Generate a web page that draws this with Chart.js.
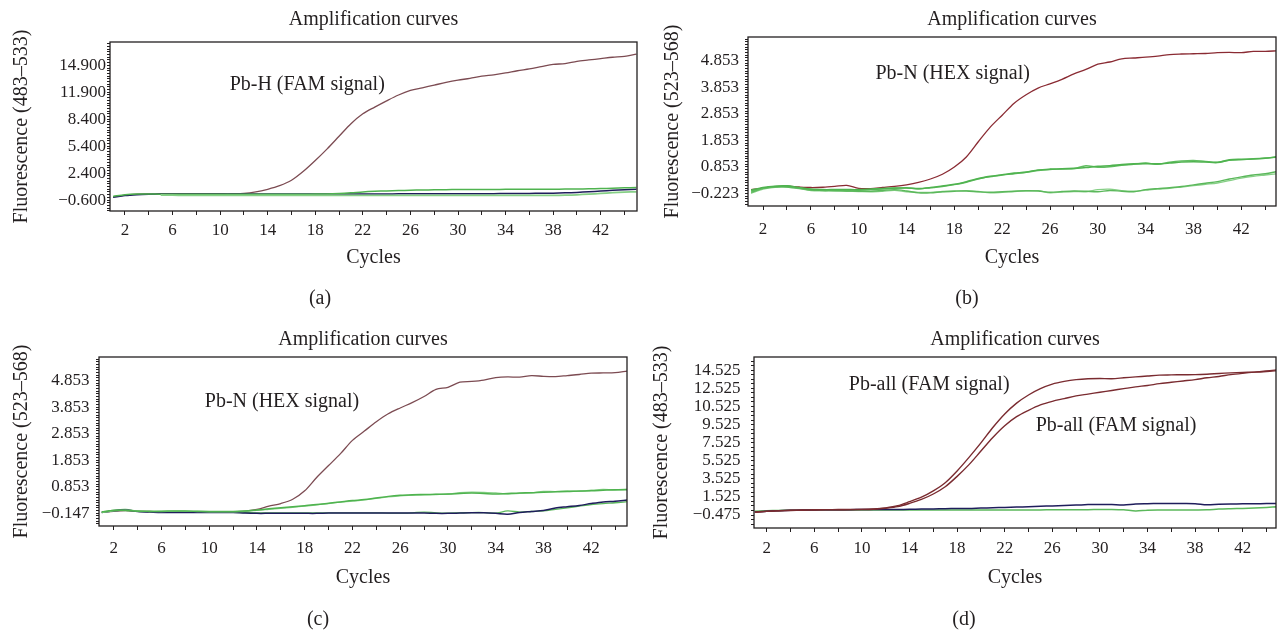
<!DOCTYPE html>
<html>
<head>
<meta charset="utf-8">
<title>Amplification curves</title>
<script src="https://cdn.jsdelivr.net/npm/chart.js@4.4.1/dist/chart.umd.min.js"></script>
<style>
  body { margin: 0; background: #fff; width: 1277px; height: 631px; overflow: hidden; position: relative; }
  canvas { position: absolute; }
</style>
</head>
<body>
<canvas id="chartA" width="640" height="320" style="left:0;top:0"></canvas>
<canvas id="chartB" width="637" height="320" style="left:640px;top:0"></canvas>
<canvas id="chartC" width="640" height="311" style="left:0;top:320px"></canvas>
<canvas id="chartD" width="637" height="311" style="left:640px;top:320px"></canvas>
<script>
const cycles = [1, 2, 3, 4, 5, 6, 7, 8, 9, 10, 11, 12, 13, 14, 15, 16, 17, 18, 19, 20, 21, 22, 23,
    24, 25, 26, 27, 28, 29, 30, 31, 32, 33, 34, 35, 36, 37, 38, 39, 40, 41, 42, 43, 44, 45];
const xTickValues = [2, 4, 6, 8, 10, 12, 14, 16, 18, 20, 22, 24, 26, 28, 30, 32, 34, 36, 38, 40, 42, 44];
const xTickLabels = ['2', '6', '10', '14', '18', '22', '26', '30', '34', '38', '42'];

// (a) Pb-H, FAM channel
const aTickLabels = ['\u22120.600', '2.400', '5.400', '8.400', '11.900', '14.900'];
const aRed = [-0.25, -0.05, 0.05, 0.08, 0.1, 0.1, 0.1, 0.1, 0.1, 0.1, 0.1, 0.13, 0.3, 0.6, 1.0, 1.6, 2.6, 3.8, 5.1, 6.5,
    7.9, 9.0, 9.75, 10.45, 11.1, 11.6, 11.9, 12.2, 12.5, 12.75, 12.95, 13.2, 13.35, 13.55, 13.8, 14.0, 14.25, 14.5,
    14.6, 14.85, 15.0, 15.15, 15.3, 15.4, 15.65];
const aBlue = [-0.3, -0.1, 0.0, 0.05, 0.07, 0.07, 0.07, 0.07, 0.07, 0.07, 0.07, 0.07, 0.07, 0.07, 0.07, 0.07, 0.07,
    0.07, 0.07, 0.07, 0.07, 0.08, 0.08, 0.08, 0.09, 0.09, 0.09, 0.1, 0.1, 0.1, 0.1, 0.1, 0.11, 0.12, 0.13, 0.14, 0.15,
    0.17, 0.2, 0.25, 0.32, 0.4, 0.48, 0.55, 0.6];
const aGreen1 = [-0.2, 0.0, 0.08, 0.07, 0.05, 0.05, 0.05, 0.05, 0.05, 0.05, 0.05, 0.05, 0.05, 0.05, 0.05, 0.05, 0.05,
    0.06, 0.07, 0.12, 0.2, 0.3, 0.37, 0.42, 0.46, 0.49, 0.52, 0.54, 0.56, 0.57, 0.57, 0.58, 0.58, 0.59, 0.59, 0.6, 0.6,
    0.61, 0.62, 0.63, 0.65, 0.68, 0.72, 0.76, 0.8];
const aGreen2 = [null, null, null, null, -0.04, -0.06, -0.08, -0.08, -0.08, -0.08, -0.08, -0.08, -0.08, -0.08, -0.08,
    -0.08, -0.08, -0.08, -0.08, -0.08, -0.08, -0.08, -0.07, -0.07, -0.07, -0.07, -0.07, -0.07, -0.07, -0.07, -0.07,
    -0.07, -0.07, -0.07, -0.08, -0.08, -0.08, -0.08, -0.06, -0.02, 0.05, 0.14, 0.22, 0.28, 0.32];

// (b) Pb-N, HEX channel
const bTickLabels = ['\u22120.223', '0.853', '1.853', '2.853', '3.853', '4.853'];
const bRed = [0.0, 0.06, 0.11, 0.13, 0.1, 0.08, 0.09, 0.12, 0.16, 0.05, 0.04, 0.08, 0.12, 0.18, 0.27, 0.4, 0.58, 0.85,
    1.23, 1.8, 2.35, 2.8, 3.25, 3.57, 3.82, 3.98, 4.15, 4.35, 4.52, 4.72, 4.8, 4.92, 4.95, 4.98, 5.02, 5.08, 5.1, 5.11,
    5.12, 5.15, 5.16, 5.15, 5.2, 5.2, 5.22];
const bGreen1 = [-0.02, 0.08, 0.13, 0.14, 0.08, 0.02, 0.0, 0.0, 0.0, 0.0, 0.02, 0.04, 0.06, 0.06, 0.04, 0.08, 0.14, 0.2,
    0.3, 0.42, 0.5, 0.56, 0.62, 0.66, 0.74, 0.77, 0.78, 0.8, 0.83, 0.88, 0.9, 0.94, 0.97, 0.98, 0.97, 1.0, 1.04, 1.05,
    1.04, 1.02, 1.12, 1.14, 1.15, 1.18, 1.24];
const bGreen2 = [-0.06, 0.05, 0.12, 0.13, 0.06, 0.0, -0.02, -0.02, -0.01, -0.02, 0.0, 0.03, 0.05, 0.07, 0.03, 0.07, 0.12,
    0.19, 0.28, 0.4, 0.49, 0.55, 0.6, 0.65, 0.72, 0.76, 0.78, 0.79, 0.9, 0.84, 0.86, 0.92, 0.95, 1.0, 0.95, 1.03, 1.08,
    1.1, 1.06, 1.03, 1.1, 1.13, 1.16, 1.19, 1.22];
const bGreen3 = [-0.1, 0.05, 0.1, 0.1, 0.05, -0.02, -0.03, -0.04, -0.05, -0.06, -0.06, -0.03, 0.0, -0.05, -0.12, -0.12,
    -0.08, -0.06, -0.05, -0.08, -0.1, -0.08, -0.06, -0.04, -0.05, -0.1, -0.07, -0.05, -0.06, -0.08, -0.03, -0.06, -0.08,
    0.0, 0.04, 0.07, 0.12, 0.18, 0.24, 0.3, 0.4, 0.48, 0.55, 0.6, 0.68];
const bGreen4 = [-0.14, 0.02, 0.09, 0.1, 0.04, -0.04, -0.05, -0.05, -0.06, -0.07, -0.08, -0.06, -0.03, -0.08, -0.1, -0.1,
    -0.07, -0.05, -0.04, -0.07, -0.12, -0.1, -0.07, -0.05, -0.04, -0.12, -0.09, -0.07, -0.08, 0.0, 0.02, -0.04, -0.06,
    -0.02, 0.02, 0.05, 0.1, 0.15, 0.2, 0.25, 0.34, 0.43, 0.5, 0.55, 0.6];

// (c) Pb-N, HEX channel
const cTickLabels = ['\u22120.147', '0.853', '1.853', '2.853', '3.853', '4.853'];
const cRed = [-0.11, -0.07, -0.05, -0.07, -0.08, -0.09, -0.09, -0.09, -0.09, -0.09, -0.09, -0.09, -0.07, 0.0, 0.12, 0.22,
    0.38, 0.7, 1.2, 1.65, 2.1, 2.6, 2.95, 3.3, 3.6, 3.82, 4.02, 4.25, 4.52, 4.6, 4.79, 4.82, 4.87, 4.96, 4.99, 4.98, 5.04,
    5.01, 5.0, 5.04, 5.08, 5.13, 5.14, 5.15, 5.21];
const cGreen1 = [-0.1, -0.04, -0.04, -0.07, -0.07, -0.07, -0.06, -0.06, -0.07, -0.08, -0.08, -0.08, -0.06, -0.02, 0.02,
    0.06, 0.1, 0.14, 0.18, 0.23, 0.28, 0.33, 0.37, 0.43, 0.49, 0.53, 0.55, 0.56, 0.57, 0.58, 0.6, 0.62, 0.6, 0.58, 0.6,
    0.62, 0.63, 0.65, 0.66, 0.67, 0.69, 0.7, 0.72, 0.74, 0.74];
const cGreen2 = [-0.12, -0.06, -0.03, -0.06, -0.08, -0.08, -0.07, -0.07, -0.08, -0.09, -0.09, -0.09, -0.07, -0.04, 0.0,
    0.04, 0.08, 0.12, 0.17, 0.22, 0.27, 0.31, 0.36, 0.42, 0.47, 0.51, 0.53, 0.55, 0.56, 0.57, 0.63, 0.65, 0.64, 0.62, 0.58,
    0.6, 0.62, 0.68, 0.67, 0.7, 0.68, 0.72, 0.75, 0.73, 0.76];
const cBlue = [-0.12, -0.05, -0.02, -0.08, -0.1, -0.12, -0.12, -0.12, -0.12, -0.12, -0.12, -0.12, -0.14, -0.15, -0.15,
    -0.15, -0.15, -0.15, -0.15, -0.14, -0.14, -0.14, -0.14, -0.14, -0.14, -0.14, -0.14, -0.14, -0.15, -0.15, -0.14, -0.13,
    -0.13, -0.15, -0.18, -0.12, -0.08, -0.04, 0.05, 0.1, 0.15, 0.22, 0.28, 0.31, 0.35];
const cGreen3 = [-0.1, -0.03, 0.0, -0.07, -0.09, -0.1, -0.1, -0.1, -0.11, -0.11, -0.11, -0.11, -0.12, -0.13, -0.13, -0.13,
    -0.13, -0.13, -0.13, -0.13, -0.13, -0.13, -0.13, -0.13, -0.14, -0.14, -0.13, -0.1, -0.13, -0.14, -0.13, -0.12, -0.12,
    -0.14, -0.06, -0.1, -0.08, -0.06, 0.0, 0.06, 0.12, 0.18, 0.22, 0.25, 0.29];

// (d) Pb-all, FAM channel
const dTickLabels = ['\u22120.475', '1.525', '3.525', '5.525', '7.525', '9.525', '10.525', '12.525', '14.525'];
const dRed1 = [-0.15, -0.05, 0.0, 0.05, 0.08, 0.1, 0.12, 0.13, 0.14, 0.15, 0.2, 0.32, 0.55, 1.0, 1.5, 2.2, 3.1, 4.4, 5.9,
    7.5, 9.2, 10.7, 11.9, 12.8, 13.5, 14.0, 14.3, 14.5, 14.6, 14.62, 14.6, 14.7, 14.8, 14.9, 15.0, 15.02, 15.04, 15.05,
    15.1, 15.18, 15.25, 15.3, 15.33, 15.4, 15.5];
const dRed2 = [-0.17, -0.07, -0.02, 0.03, 0.06, 0.08, 0.1, 0.11, 0.12, 0.13, 0.17, 0.28, 0.45, 0.81, 1.25, 1.85, 2.65,
    3.8, 5.1, 6.6, 8.1, 9.4, 10.4, 11.1, 11.7, 12.1, 12.4, 12.7, 12.9, 13.1, 13.3, 13.5, 13.7, 13.85, 14.05, 14.2, 14.35,
    14.5, 14.7, 14.85, 15.05, 15.2, 15.33, 15.45, 15.6];
const dBlue = [-0.15, -0.05, 0.0, 0.04, 0.07, 0.09, 0.1, 0.11, 0.12, 0.13, 0.13, 0.13, 0.14, 0.15, 0.18, 0.2, 0.22, 0.25,
    0.26, 0.3, 0.33, 0.37, 0.4, 0.45, 0.5, 0.53, 0.58, 0.62, 0.68, 0.7, 0.68, 0.64, 0.75, 0.78, 0.8, 0.81, 0.8, 0.78, 0.66,
    0.72, 0.75, 0.76, 0.77, 0.79, 0.81];
const dGreen = [-0.05, 0.0, 0.03, 0.05, 0.06, 0.07, 0.08, 0.08, 0.08, 0.08, 0.08, 0.08, 0.08, 0.08, 0.08, 0.08, 0.08,
    0.08, 0.08, 0.08, 0.08, 0.08, 0.08, 0.09, 0.09, 0.1, 0.1, 0.11, 0.12, 0.13, 0.14, 0.1, -0.03, 0.06, 0.08, 0.08, 0.09,
    0.09, 0.1, 0.18, 0.22, 0.25, 0.3, 0.37, 0.44];

const ink = '#231f20';
const serif = "'Liberation Serif', 'DejaVu Serif', serif";
Chart.defaults.font.family = serif;
Chart.defaults.color = ink;

// title above the frame, caption under the panel, frame and in-plot labels
const panelText = {
    id: 'panelText',
    afterDraw(chart, args, opts) {
        const { ctx, chartArea: area, scales } = chart;
        ctx.save();
        ctx.strokeStyle = ink;
        ctx.lineWidth = 1.3;
        ctx.strokeRect(area.left, area.top, area.right - area.left, area.bottom - area.top);
        ctx.fillStyle = ink;
        ctx.font = '20px ' + serif;
        ctx.textBaseline = 'middle';
        ctx.textAlign = 'center';
        ctx.fillText('Amplification curves', (area.left + area.right) / 2, opts.titleY);
        ctx.fillText(opts.caption, opts.captionX, opts.captionY);
        ctx.textAlign = 'left';
        opts.notes.forEach(n => {
            ctx.fillText(n.text, scales.x.getPixelForValue(n.x), scales.y.getPixelForValue(n.y));
        });
        ctx.restore();
    }
};

function line(data, color, width) {
    return { data, borderColor: color, borderWidth: width, pointRadius: 0, tension: 0.3, fill: false };
}

function makePanel(id, p) {
    new Chart(document.getElementById(id), {
        type: 'line',
        data: { labels: cycles, datasets: p.datasets },
        plugins: [panelText],
        options: {
            responsive: false,
            animation: false,
            events: [],
            layout: { padding: p.padding },
            plugins: {
                legend: { display: false },
                tooltip: { enabled: false },
                panelText: { titleY: 20, caption: p.caption, captionX: p.captionX, captionY: p.captionY, notes: p.notes }
            },
            scales: {
                x: {
                    type: 'linear',
                    min: p.xMin,
                    max: p.xMax,
                    afterBuildTicks: s => { s.ticks = xTickValues.map(v => ({ value: v })); },
                    afterFit: s => { s.height = p.xHeight; },
                    ticks: {
                        autoSkip: false,
                        maxRotation: 0,
                        padding: p.xTickPad,
                        font: { size: 17 },
                        callback: v => xTickLabels.includes(String(v)) ? String(v) : ''
                    },
                    grid: { drawOnChartArea: false, tickLength: 4, color: ink },
                    border: { display: false },
                    title: { display: true, text: 'Cycles', font: { size: 20 }, padding: { top: 0, bottom: 0 } }
                },
                y: {
                    min: p.yMin,
                    max: p.yMax,
                    afterBuildTicks: s => {
                        const t = [];
                        for (let k = Math.ceil((p.yMin - p.yFirst) / p.yMinor); p.yFirst + k * p.yMinor <= p.yMax; k++) {
                            t.push({ value: p.yFirst + k * p.yMinor });
                        }
                        s.ticks = t;
                    },
                    afterFit: s => { s.width = p.yWidth; },
                    ticks: {
                        autoSkip: false,
                        padding: p.yTickPad,
                        font: { size: 17 },
                        callback: v => {
                            const i = (v - p.yFirst) / p.yStep;
                            const r = Math.round(i);
                            return Math.abs(i - r) < 1e-6 && p.yLabels[r] ? p.yLabels[r] : '';
                        }
                    },
                    grid: { drawOnChartArea: false, tickLength: 3, color: ink },
                    border: { display: false },
                    title: { display: true, text: p.yTitle, font: { size: 20 }, padding: { top: p.yTitlePad, bottom: 0 } }
                }
            }
        }
    });
}

makePanel('chartA', {
    datasets: [
        line(aGreen2, '#86cf86', 1.8),
        line(aGreen1, '#4fb34f', 1.5),
        line(aBlue, '#1f1d5c', 1.5),
        line(aRed, '#7c4b52', 1.3)
    ],
    padding: { left: 0, top: 42, right: 3, bottom: 50 },
    xMin: 0.74, xMax: 45.05, xHeight: 59, xTickPad: 5,
    yMin: -1.82, yMax: 17.0, yFirst: -0.6, yStep: 3, yMinor: 0.3, yLabels: aTickLabels,
    yWidth: 110, yTickPad: 1, yTitle: 'Fluorescence (483\u2013533)', yTitlePad: 10,
    caption: '(a)', captionX: 320, captionY: 299,
    notes: [{ text: 'Pb-H (FAM signal)', x: 10.8, y: 12.2 }]
});

makePanel('chartB', {
    datasets: [
        line(bGreen1, '#4fb34f', 1.6),
        line(bGreen2, '#62bd62', 1.4),
        line(bGreen3, '#5bb85b', 1.4),
        line(bGreen4, '#86cf86', 1.3),
        line(bRed, '#8a2b33', 1.3)
    ],
    padding: { left: 0, top: 37, right: 1, bottom: 50 },
    xMin: 0.74, xMax: 44.9, xHeight: 64, xTickPad: 9,
    yMin: -0.615, yMax: 5.74, yFirst: -0.147, yStep: 1, yMinor: 0.1, yLabels: bTickLabels,
    yWidth: 108, yTickPad: 6, yTitle: 'Fluorescence (523\u2013568)', yTitlePad: 21,
    caption: '(b)', captionX: 327, captionY: 299,
    notes: [{ text: 'Pb-N (HEX signal)', x: 11.4, y: 4.34 }]
});

makePanel('chartC', {
    datasets: [
        line(cGreen1, '#4fb34f', 1.5),
        line(cGreen2, '#86cf86', 1.3),
        line(cBlue, '#1f1d5c', 1.5),
        line(cGreen3, '#5bb85b', 1.3),
        line(cRed, '#7c4b52', 1.3)
    ],
    padding: { left: 0, top: 37, right: 13, bottom: 41 },
    xMin: 0.77, xMax: 45.0, xHeight: 64, xTickPad: 8,
    yMin: -0.626, yMax: 5.74, yFirst: -0.147, yStep: 1, yMinor: 0.1, yLabels: cTickLabels,
    yWidth: 99, yTickPad: 6.5, yTitle: 'Fluorescence (523\u2013568)', yTitlePad: 9.5,
    caption: '(c)', captionX: 318, captionY: 300,
    notes: [{ text: 'Pb-N (HEX signal)', x: 9.63, y: 4.06 }]
});

makePanel('chartD', {
    datasets: [
        line(dRed1, '#7a2b30', 1.4),
        line(dRed2, '#7a2b30', 1.4),
        line(dBlue, '#1f1d5c', 1.5),
        line(dGreen, '#5bb85b', 1.5)
    ],
    padding: { left: 0, top: 37, right: 1, bottom: 41 },
    xMin: 0.93, xMax: 44.8, xHeight: 62, xTickPad: 6,
    yMin: -1.91, yMax: 17.0, yFirst: -0.475, yStep: 2, yMinor: 0.5, yLabels: dTickLabels,
    yWidth: 114, yTickPad: 10.5, yTitle: 'Fluorescence (483\u2013533)', yTitlePad: 10,
    caption: '(d)', captionX: 324, captionY: 300,
    notes: [
        { text: 'Pb-all (FAM signal)', x: 8.9, y: 13.9 },
        { text: 'Pb-all (FAM signal)', x: 24.6, y: 9.36 }
    ]
});
</script>
</body>
</html>
